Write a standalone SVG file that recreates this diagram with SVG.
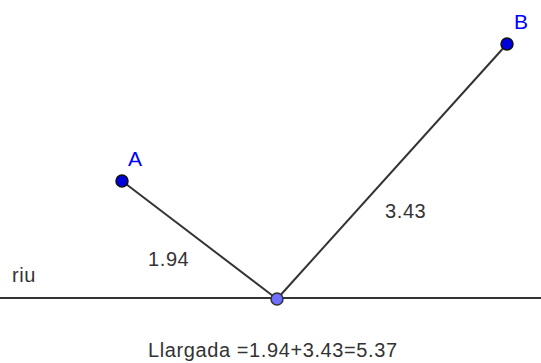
<svg xmlns="http://www.w3.org/2000/svg" width="541" height="363" viewBox="0 0 541 363">
<style>
.t{font-family:"Liberation Sans",Arial,sans-serif;font-size:20px;letter-spacing:0.6px;fill:#333}
.lbl{font-family:"Liberation Sans",Arial,sans-serif;font-size:21px;fill:#0000ff}
.seg{stroke:#333;stroke-width:2;fill:none}
.pt{fill:#0000dd;stroke:#111;stroke-width:1.5}
.pt2{fill:#6f6fff;stroke:#333;stroke-width:1.5}
</style>
<rect width="541" height="363" fill="#fff"/>
<g id="connectors">
<line class="seg" x1="0" y1="298" x2="541" y2="298" stroke="#222"/>
<line class="seg" x1="122" y1="181" x2="277" y2="299"/>
<line class="seg" x1="507" y1="44" x2="277" y2="299"/>
</g>
<g id="A"><circle class="pt" cx="122" cy="181" r="6"/><text class="lbl" x="128" y="166">A</text></g>
<g id="B"><circle class="pt" cx="507" cy="44" r="6"/><text class="lbl" x="514" y="29">B</text></g>
<g id="P"><circle class="pt2" cx="277" cy="299" r="6"/></g>
<text class="t" x="12" y="282">riu</text>
<text class="t" x="148" y="266">1.94</text>
<text class="t" x="385" y="218">3.43</text>
<text class="t" x="148" y="357">Llargada =1.94+3.43=5.37</text>
</svg>
